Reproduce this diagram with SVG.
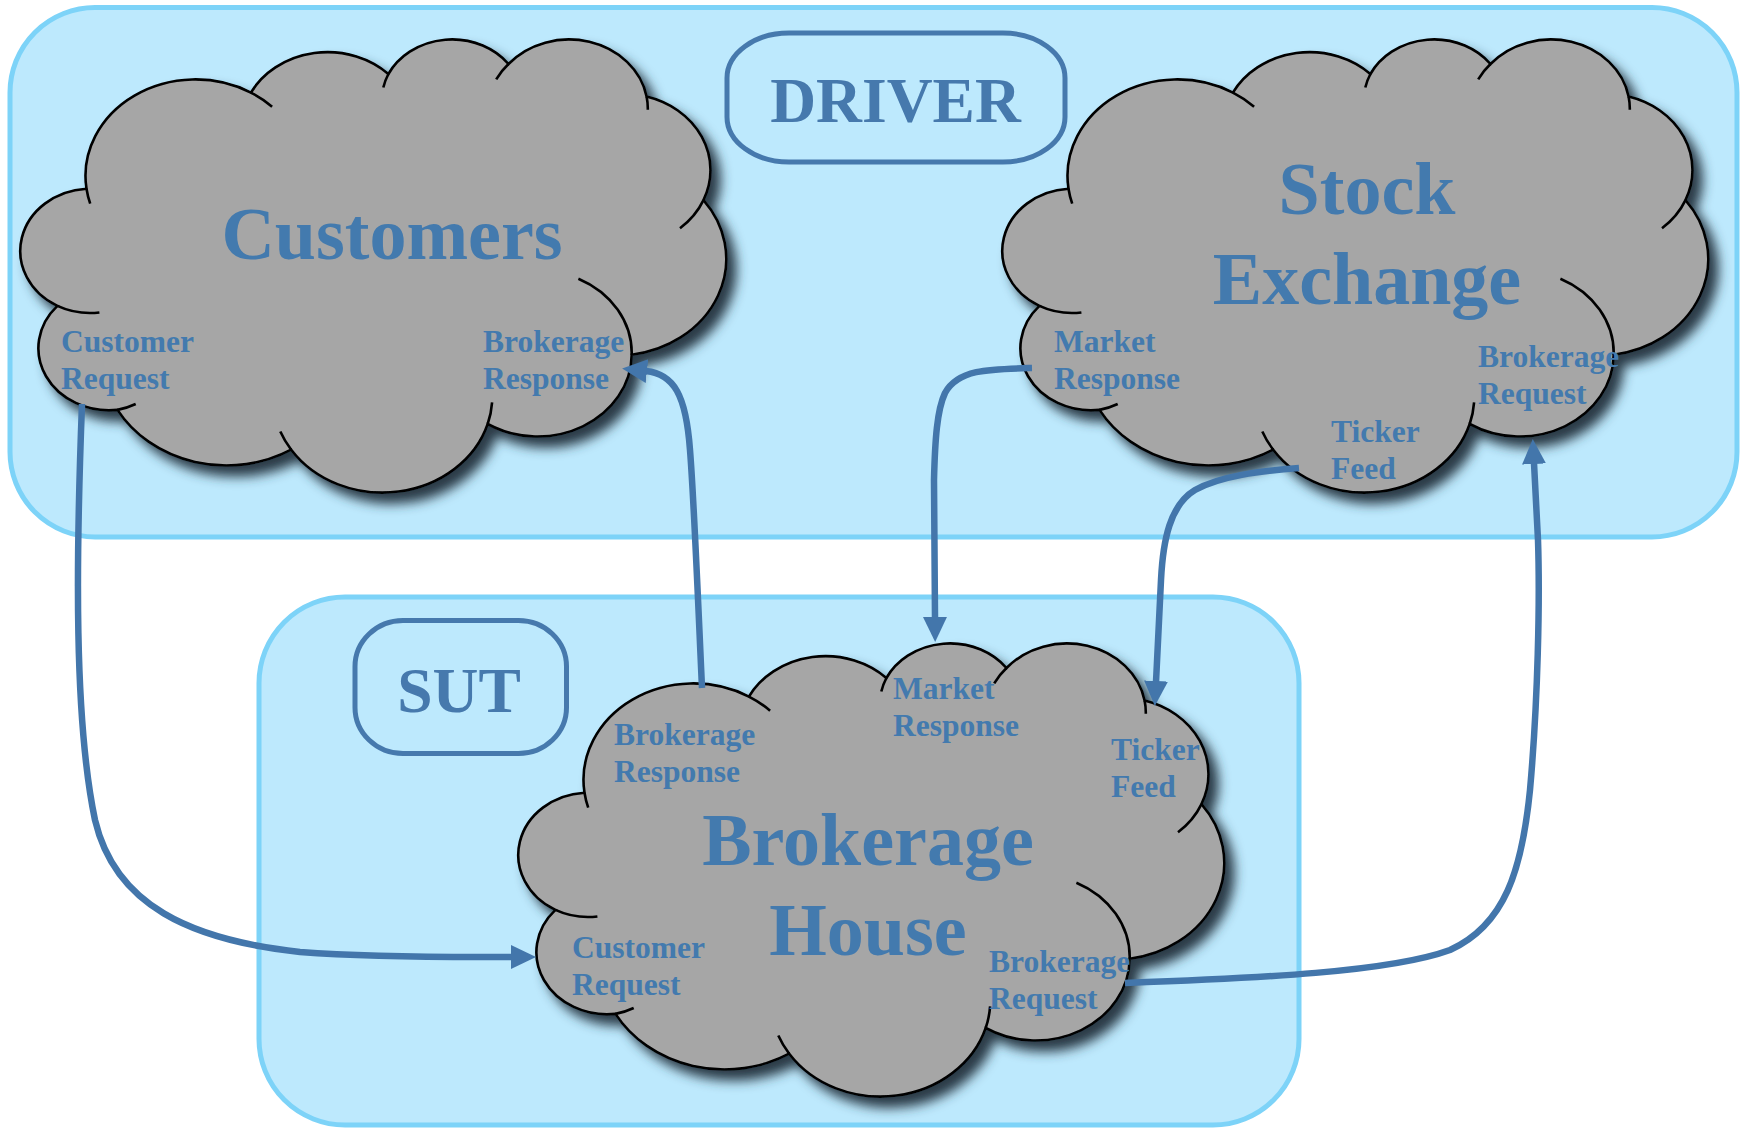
<svg xmlns="http://www.w3.org/2000/svg" xmlns:xlink="http://www.w3.org/1999/xlink" width="1744" height="1128" viewBox="0 0 1744 1128">
<style>
.container{fill:#bde9fd;stroke:#7dd3f8;stroke-width:5}
.tagbox{fill:none;stroke:#4679ad;stroke-width:5}
.cloud{fill:#a6a6a6;stroke:#000;stroke-width:2.6;filter:url(#shadow)}
.ticks{fill:none;stroke:#000;stroke-width:2.6}
.title{font-family:"Liberation Serif","Times New Roman",serif;font-weight:bold;font-size:74px;fill:#437aae;text-anchor:middle}
.tag{font-family:"Liberation Serif","Times New Roman",serif;font-weight:bold;font-size:63.5px;fill:#4679ad;text-anchor:middle}
.lbl{font-family:"Liberation Serif","Times New Roman",serif;font-weight:bold;font-size:31.5px;fill:#437aae}
.conn{fill:none;stroke:#4376ab;stroke-width:6.5;marker-end:url(#ah)}
</style>
<defs>
<filter id="shadow" x="-10%" y="-10%" width="130%" height="130%">
<feDropShadow dx="9" dy="10" stdDeviation="6" flood-color="#2c3b46" flood-opacity="1"/>
</filter>
<marker id="ah" markerUnits="userSpaceOnUse" markerWidth="32" markerHeight="32" viewBox="0 -16 32 32" refX="1" refY="0" orient="auto">
<path d="M0,-12 L25,0 L0,12 Z" fill="#4376ab"/>
</marker>
<path id="cloudShape" d="M 86.5 188.7 A 109.9 96.4 0 0 1 250.9 92.6 A 86.8 76.2 0 0 1 388.4 74.0 A 71.0 62.3 0 0 1 508.5 64.0 A 79.0 69.2 0 0 1 646.6 96.5 A 86.8 76.3 0 0 1 703.5 200.1 A 110.2 96.7 0 0 1 631.7 354.7 A 94.1 82.5 0 0 1 487.7 424.0 A 109.9 96.7 0 0 1 291.2 449.7 A 125.6 110.6 0 0 1 117.5 409.9 A 70.9 62.1 0 0 1 57.4 305.9 A 70.7 62.4 0 0 1 86.5 188.7 Z"/>
<path id="cloudTicks" d="M 90.2 203.6 A 109.9 96.4 0 0 1 86.5 188.7 M 99.4 312.5 A 70.7 62.4 0 0 1 57.4 305.9 M 135.7 404.0 A 70.9 62.1 0 0 1 117.5 409.9 M 291.2 449.7 A 109.9 96.7 0 0 1 280.3 431.5 M 492.1 402.4 A 109.9 96.7 0 0 1 487.7 424.0 M 578.4 278.7 A 94.1 82.5 0 0 1 631.7 354.7 M 703.5 200.1 A 86.8 76.3 0 0 1 680.0 228.2 M 646.6 96.5 A 79.0 69.2 0 0 1 647.8 109.7 M 496.2 79.4 A 79.0 69.2 0 0 1 508.5 64.0 M 383.3 87.5 A 71.0 62.3 0 0 1 388.4 74.0 M 250.9 92.6 A 109.9 96.4 0 0 1 272.1 106.7"/>
</defs>
<rect width="1744" height="1128" fill="#ffffff"/>
<g id="driver">
<rect class="container" x="10" y="7.5" width="1727" height="529.5" rx="85" ry="85"/>
<rect class="tagbox" x="727" y="33" width="338" height="129" rx="62" ry="45"/>
<text class="tag" x="895.5" y="122">DRIVER</text>
</g>
<g id="sut">
<rect class="container" x="259" y="597" width="1040" height="528" rx="86" ry="86"/>
<rect class="tagbox" x="355" y="620.5" width="211.5" height="133" rx="48" ry="46"/>
<text class="tag" x="459" y="712">SUT</text>
</g>
<g id="customers">
<use href="#cloudShape" class="cloud"/>
<use href="#cloudTicks" class="ticks"/>
<text class="title" x="392" y="259">Customers</text>
<text class="lbl" x="61" y="352">Customer</text>
<text class="lbl" x="61" y="389">Request</text>
<text class="lbl" x="483" y="352">Brokerage</text>
<text class="lbl" x="483" y="389">Response</text>
</g>
<g id="stock-exchange">
<use href="#cloudShape" class="cloud" transform="translate(982,0)"/>
<use href="#cloudTicks" class="ticks" transform="translate(982,0)"/>
<text class="title" x="1367" y="214">Stock</text>
<text class="title" x="1367" y="304">Exchange</text>
<text class="lbl" x="1054" y="352">Market</text>
<text class="lbl" x="1054" y="389">Response</text>
<text class="lbl" x="1478" y="367">Brokerage</text>
<text class="lbl" x="1478" y="404">Request</text>
<text class="lbl" x="1331" y="442">Ticker</text>
<text class="lbl" x="1331" y="479">Feed</text>
</g>
<g id="brokerage-house">
<use href="#cloudShape" class="cloud" transform="translate(498,604)"/>
<use href="#cloudTicks" class="ticks" transform="translate(498,604)"/>
<text class="title" x="868" y="865">Brokerage</text>
<text class="title" x="868" y="955">House</text>
<text class="lbl" x="614" y="745">Brokerage</text>
<text class="lbl" x="614" y="782">Response</text>
<text class="lbl" x="893" y="699">Market</text>
<text class="lbl" x="893" y="736">Response</text>
<text class="lbl" x="1111" y="760">Ticker</text>
<text class="lbl" x="1111" y="797">Feed</text>
<text class="lbl" x="572" y="958">Customer</text>
<text class="lbl" x="572" y="995">Request</text>
<text class="lbl" x="989" y="972">Brokerage</text>
<text class="lbl" x="989" y="1009">Request</text>
</g>
<g id="connectors">
<path class="conn" d="M 82 404 C 76 560, 74 720, 95 820 C 115 905, 190 940, 300 952 C 380 958, 460 957, 512 957"/>
<path class="conn" d="M 702 688 C 698 600, 694 500, 690 450 C 686 395, 674 374, 646 371"/>
<path class="conn" d="M 1032 368 C 990 369, 958 369, 945 393 C 937 410, 935 440, 934 480 L 935 618"/>
<path class="conn" d="M 1299 468 C 1260 471, 1220 476, 1195 490 C 1170 505, 1163 540, 1161 580 L 1156 682"/>
<path class="conn" d="M 1125 983 C 1260 978, 1390 972, 1450 950 C 1505 925, 1522 870, 1530 790 C 1538 700, 1540 600, 1538 540 L 1534 463"/>
</g>
</svg>
